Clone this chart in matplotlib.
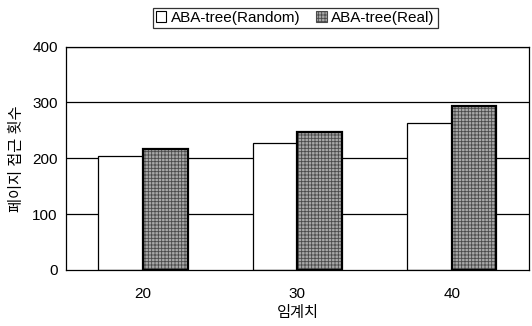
import matplotlib
matplotlib.use("Agg")
import matplotlib.pyplot as plt
import numpy as np
from matplotlib.patches import Patch

plt.rcParams['font.family'] = ['Liberation Sans', 'Noto Sans CJK KR']
plt.rcParams['hatch.linewidth'] = 0.6

thresholds = ["20", "30", "40"]
random_counts = [204, 228, 264]
real_counts = [216, 247, 293]
series_names = ["ABA-tree(Random)", "ABA-tree(Real)"]
y_ticks = [0, 100, 200, 300, 400]

fig = plt.figure(figsize=(5.32, 3.26), dpi=100)
ax = fig.add_axes([0.124, 0.172, 0.870, 0.685])

x = np.arange(len(thresholds))
w = 0.29

for yv in y_ticks[1:]:
    ax.axhline(yv, color='black', linewidth=0.9, zorder=0)

ax.bar(x - w / 2, random_counts, width=w, facecolor='white',
       edgecolor='black', linewidth=0.9, zorder=2)
ax.bar(x + w / 2, real_counts, width=w, facecolor='#a8a8a8',
       edgecolor='#4a4a4a', hatch='+++++', linewidth=0, zorder=2)
ax.bar(x + w / 2, real_counts, width=w, facecolor='none',
       edgecolor='black', linewidth=1.6, zorder=3)

ax.set_xlim(-0.5, 2.5)
ax.set_ylim(0, 400)
ax.set_xticks(x)
ax.set_xticklabels(thresholds, fontsize=11)
ax.set_yticks(y_ticks)
ax.set_yticklabels([str(v) for v in y_ticks], fontsize=11)
ax.tick_params(axis='both', length=0)
ax.tick_params(axis='x', pad=12)
ax.tick_params(axis='y', pad=6)
for s in ax.spines.values():
    s.set_linewidth(0.9)

ax.set_xlabel("임계치", fontsize=11, labelpad=4)
ax.set_ylabel("페이지 접근 횟수", fontsize=11, labelpad=6)

handles = [
    Patch(facecolor='white', edgecolor='black', linewidth=0.8),
    Patch(facecolor='#a8a8a8', edgecolor='#4a4a4a', hatch='+++++', linewidth=0.8),
]
leg = fig.legend(handles, series_names, loc='center', bbox_to_anchor=(0.555, 0.945),
                 ncol=2, frameon=True, fancybox=False, edgecolor='black',
                 fontsize=11, handlelength=0.7, handleheight=0.7,
                 handletextpad=0.3, columnspacing=1.0, borderpad=0.2,
                 borderaxespad=0)
leg.get_frame().set_linewidth(0.9)

fig.savefig("out.png", dpi=100)
